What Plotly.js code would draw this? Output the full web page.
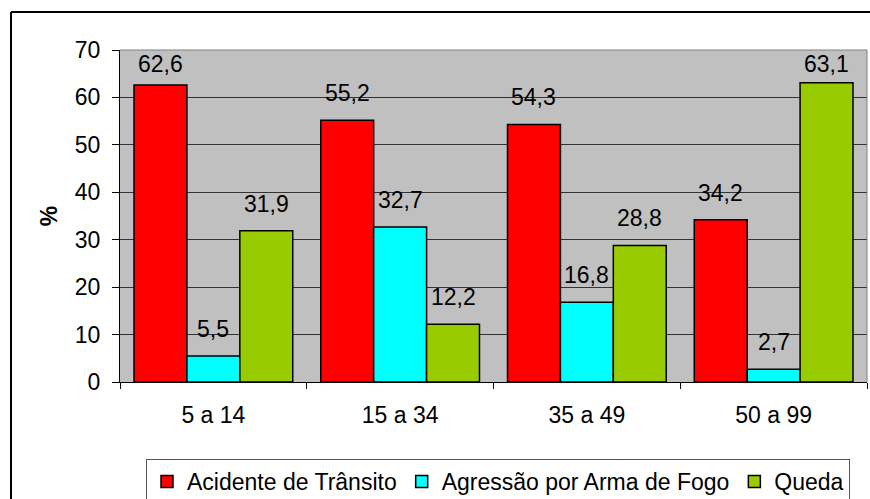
<!DOCTYPE html>
<html>
<head>
<meta charset="utf-8">
<script src="https://cdn.plot.ly/plotly-3.0.1.min.js"></script>
<style>html,body{margin:0;padding:0;background:#fff;overflow:hidden}#chart{width:870px;height:499px}</style>
</head>
<body>
<div id="chart"></div>
<script>
const categories = ["5 a 14", "15 a 34", "35 a 49", "50 a 99"];
const seriesNames = ["Acidente de Trânsito", "Agressão por Arma de Fogo", "Queda"];
const acidente = [62.6, 55.2, 54.3, 34.2];
const agressao = [5.5, 32.7, 16.8, 2.7];
const queda = [31.9, 12.2, 28.8, 63.1];
const colors = ["#FF0000", "#00FFFF", "#99CC00"];
const yTicks = [0, 10, 20, 30, 40, 50, 60, 70];

const W = 870, H = 499;
const M = {l: 120, r: 3, t: 50, b: 117, autoexpand: false};
const plotW = W - M.l - M.r, plotH = H - M.t - M.b;
const yMax = 70;
const bargap = 0.15;
const barPx = plotW / categories.length * (1 - bargap) / 3;
const font = "Arial, 'Liberation Sans', sans-serif";
const FS = 23;

const series = [acidente, agressao, queda];
const traces = series.map((vals, i) => ({
  type: "bar",
  name: seriesNames[i],
  x: categories,
  y: vals,
  marker: {color: colors[i], line: {color: "#000", width: 1.5}},
  hoverinfo: "none"
}));

const annotations = [];
series.forEach((vals, i) => {
  vals.forEach((v, j) => {
    const pxToTop = (yMax - v) / yMax * plotH;
    const clamp = pxToTop < 42;
    annotations.push({
      x: categories[j], y: clamp ? yMax : v, xref: "x", yref: "y",
      text: v.toFixed(1).replace(".", ","),
      showarrow: false,
      xshift: (i - 1) * barPx,
      yanchor: clamp ? "top" : "bottom",
      yshift: clamp ? 1 : 12,
      font: {family: font, size: FS, color: "#000"}
    });
  });
});

// paper-coordinate helpers for the outer frame (kept inside the canvas)
const px2paperX = px => (px - M.l) / plotW;
const px2paperY = py => ((H - M.b) - py) / plotH;

const layout = {
  width: W, height: H,
  margin: M,
  paper_bgcolor: "#fff",
  plot_bgcolor: "#C0C0C0",
  font: {family: font, size: FS, color: "#000"},
  barmode: "group",
  bargap: bargap,
  bargroupgap: 0,
  showlegend: true,
  legend: {
    orientation: "h",
    x: px2paperX(146), xanchor: "left",
    y: px2paperY(459), yanchor: "top",
    bgcolor: "#fff", bordercolor: "#555", borderwidth: 1,
    font: {family: font, size: FS, color: "#000"},
    traceorder: "normal"
  },
  xaxis: {
    type: "category",
    tickson: "boundaries",
    ticks: "outside", ticklen: 6, tickcolor: "#000", tickwidth: 1,
    showline: true, linecolor: "#000", linewidth: 1,
    showgrid: false, zeroline: false,
    tickfont: {family: font, size: FS, color: "#000"},
    ticklabelstandoff: 12,
    fixedrange: true
  },
  yaxis: {
    range: [0, yMax],
    tickvals: yTicks,
    ticks: "outside", ticklen: 7, tickcolor: "#000", tickwidth: 1,
    showline: true, linecolor: "#000", linewidth: 1,
    showgrid: true, gridcolor: "#333", gridwidth: 1,
    zeroline: false,
    tickfont: {family: font, size: FS, color: "#000"},
    ticklabelstandoff: 7,
    title: {text: "<b>%</b>", font: {family: font, size: FS, color: "#000"}, standoff: 10},
    fixedrange: true
  },
  shapes: [
    {type: "line", xref: "paper", yref: "paper", x0: 0, x1: 1, y0: 1, y1: 1, line: {color: "#808080", width: 1}},
    {type: "line", xref: "paper", yref: "paper", x0: 1, x1: 1, y0: 0, y1: 1, line: {color: "#808080", width: 1}},
    {type: "line", xref: "paper", yref: "paper", x0: px2paperX(11), x1: px2paperX(870), y0: px2paperY(12), y1: px2paperY(12), line: {color: "#000", width: 2}},
    {type: "line", xref: "paper", yref: "paper", x0: px2paperX(11), x1: px2paperX(11), y0: px2paperY(12), y1: px2paperY(499), line: {color: "#000", width: 2}}
  ],
  annotations: annotations
};

Plotly.newPlot("chart", traces, layout, {staticPlot: true, displayModeBar: false});
</script>
</body>
</html>
